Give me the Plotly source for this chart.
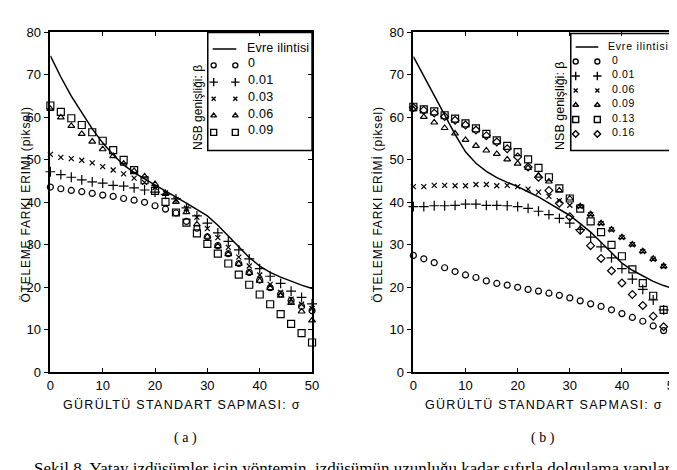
import plotly.graph_objects as go

W, H = 677, 470

# ---------------- data ----------------
sigma = [0, 2, 4, 6, 8, 10, 12, 14, 16, 18, 20, 22, 24, 26, 28, 30, 32, 34, 36, 38, 40, 42, 44, 46, 48, 50]
x_ticks = [0, 10, 20, 30, 40, 50]
y_ticks = [0, 10, 20, 30, 40, 50, 60, 70, 80]

# panel (a)
phase_a = [74.5, 69.5, 65.0, 61.0, 57.3, 54.0, 51.2, 48.8, 47.0, 45.5, 44.0, 42.6, 41.2, 39.8, 38.4, 36.8,
           34.6, 32.1, 29.4, 27.0, 25.0, 23.5, 22.4, 21.4, 20.5, 19.7]
a_b000 = [43.6, 43.2, 42.8, 42.5, 42.1, 41.7, 41.4, 40.9, 40.5, 40.0, 39.2, 38.4, 37.5, 35.5, 33.9, 31.9,
          29.8, 27.9, 25.6, 23.5, 21.7, 19.9, 18.4, 16.9, 15.5, 14.5]
a_b001 = [47.2, 46.5, 45.9, 45.3, 44.8, 44.5, 44.0, 43.8, 43.4, 42.9, 42.4, 41.9, 40.8, 38.7, 36.8, 35.1,
          32.8, 30.8, 28.8, 26.7, 24.4, 22.6, 20.9, 19.1, 17.6, 16.1]
a_b003 = [51.3, 50.6, 50.3, 49.9, 49.3, 48.4, 47.6, 46.7, 45.7, 44.7, 43.5, 42.2, 40.6, 38.6, 36.5, 33.8,
          31.7, 29.4, 27.1, 25.0, 22.9, 20.7, 18.8, 17.2, 16.0, 15.0]
a_b006 = [62.0, 60.0, 58.0, 56.1, 54.3, 52.5, 50.9, 49.1, 47.4, 46.1, 44.3, 42.0, 40.1, 37.7, 34.8, 31.9,
          29.7, 27.8, 25.5, 23.4, 21.5, 19.8, 18.0, 16.3, 14.3, 12.2]
a_b009 = [62.8, 61.3, 59.8, 58.2, 56.5, 54.5, 52.3, 50.0, 47.6, 45.2, 42.7, 40.1, 37.6, 35.2, 32.7, 30.2,
          27.9, 25.6, 23.0, 20.6, 18.3, 16.0, 13.7, 11.4, 9.2, 7.0]
labels_a = ["0", "0.01", "0.03", "0.06", "0.09"]

# panel (b)
phase_b = [74.3, 69.8, 65.3, 60.6, 56.0, 51.9, 49.2, 47.3, 45.8, 44.7, 43.7, 42.5, 41.3, 39.8, 38.3, 36.9,
           35.0, 33.0, 30.6, 28.1, 25.7, 24.0, 22.6, 21.4, 20.4, 19.6]
b_b000 = [27.5, 26.7, 25.8, 24.6, 23.7, 22.9, 22.3, 21.5, 20.9, 20.5, 20.0, 19.5, 19.1, 18.6, 18.1, 17.5,
          16.8, 16.1, 15.5, 14.7, 13.8, 12.9, 12.0, 10.9, 9.8, 8.5]
b_b001 = [39.0, 39.0, 39.2, 39.2, 39.3, 39.6, 39.6, 39.3, 39.3, 39.2, 39.0, 38.6, 37.9, 37.1, 36.2, 35.1,
          33.6, 31.8, 29.5, 26.9, 24.4, 21.9, 19.5, 17.0, 14.7, 12.2]
b_b006 = [43.7, 43.7, 44.0, 44.0, 43.9, 43.9, 44.2, 44.2, 43.9, 44.0, 43.7, 43.1, 42.4, 41.4, 40.4, 39.3,
          39.0, 37.1, 35.0, 33.5, 31.7, 30.0, 28.4, 26.6, 24.9, 23.1]
b_b009 = [61.9, 60.1, 58.8, 57.5, 56.2, 54.7, 53.3, 52.2, 51.4, 50.1, 49.1, 48.1, 46.3, 44.9, 42.8, 40.9,
          39.1, 37.2, 35.1, 33.6, 31.8, 30.1, 28.5, 26.7, 25.0, 23.2]
b_b013 = [62.5, 61.9, 61.4, 60.5, 59.7, 58.6, 57.4, 56.1, 54.6, 53.3, 51.8, 50.1, 48.1, 45.9, 43.3, 40.9,
          38.5, 35.5, 33.0, 30.0, 27.3, 24.2, 21.0, 18.0, 14.7, 11.8]
b_b016 = [62.3, 61.7, 61.0, 60.2, 59.3, 58.2, 57.0, 55.7, 54.2, 52.6, 50.7, 48.3, 45.9, 42.8, 39.8, 36.6,
          33.4, 29.8, 26.8, 23.9, 21.0, 18.3, 15.7, 13.2, 10.7, 8.3]
labels_b = ["0", "0.01", "0.06", "0.09", "0.13", "0.16"]

line_label = "Evre ilintisi"
beta_title = "NSB genişliği: β"
x_title = "GÜRÜLTÜ STANDART SAPMASI: "
x_symbol = "σ"
y_title_a = "ÖTELEME FARKI ERIMI (piksel)"
y_title_b = "ÖTELEME FARKI ERİMİ (piksel)"
caption = "Şekil 8. Yatay izdüşümler için yöntemin, izdüşümün uzunluğu kadar sıfırla dolgulama yapılarak"

# ---------------- styles ----------------
SANS = "Liberation Sans, Arial, sans-serif"
SERIF = "Liberation Serif, Times New Roman, serif"
BLACK = "#000000"

SYM = {
    "circle": ("circle-open", 6),
    "plus": ("cross-thin-open", 7),
    "x": ("x-thin-open", 5),
    "tri": ("triangle-up-open", 6),
    "square": ("square-open", 7),
    "diamond": ("diamond-open", 6),
}
series_a = [(a_b000, "circle"), (a_b001, "plus"), (a_b003, "x"), (a_b006, "tri"), (a_b009, "square")]
series_b = [(b_b000, "circle"), (b_b001, "plus"), (b_b006, "x"), (b_b009, "tri"), (b_b013, "square"),
            (b_b016, "diamond")]


def px(x):
    return x / W


def py(y):
    return 1 - y / H


A_L, A_R, B_L, B_R, TOP, BOT = 39, 305, 408, 673, 18, 369

fig = go.Figure()


def add_panel(xa, ya, phase, series):
    fig.add_trace(go.Scatter(x=sigma, y=phase, mode="lines", line=dict(color=BLACK, width=1.5),
                             xaxis=xa, yaxis=ya, showlegend=False, hoverinfo="skip", cliponaxis=False))
    for vals, key in series:
        sym, size = SYM[key]
        fig.add_trace(go.Scatter(x=sigma, y=vals, mode="markers",
                                 marker=dict(symbol=sym, size=size, color=BLACK,
                                             line=dict(color=BLACK, width=1.2)),
                                 xaxis=xa, yaxis=ya, showlegend=False, hoverinfo="skip", cliponaxis=False))


add_panel("x", "y", phase_a, series_a)
add_panel("x2", "y2", phase_b, series_b)

# dummy traces so the right-side (inside-tick) mirror axes render
for xa, ya in [("x", "y3"), ("x2", "y4")]:
    fig.add_trace(go.Scatter(x=[None], y=[None], xaxis=xa, yaxis=ya, showlegend=False, hoverinfo="skip"))

# ---------------- legends (drawn in pixel-space overlay axes) ----------------
annotations = []
shapes = []


def span(txt, spacing):
    return '<span style="letter-spacing:%spx">%s</span>' % (spacing, txt)


def add_legend(xa, ya, box, line_y, line_x, head_x, text_x, row_y0, row_dy, mark_x, labels, series,
               fsize, head_spacing, lab_spacing, title_x, title_y, title_size):
    l, t, r, b = box
    shapes.append(dict(type="rect", xref="paper", yref="paper", x0=px(l), x1=px(r), y0=py(b), y1=py(t),
                       line=dict(color=BLACK, width=1.5), fillcolor="rgba(0,0,0,0)"))
    fig.add_trace(go.Scatter(x=list(line_x), y=[line_y, line_y], mode="lines", line=dict(color=BLACK, width=1.5),
                             xaxis=xa, yaxis=ya, showlegend=False, hoverinfo="skip"))
    annotations.append(dict(text=span(line_label, head_spacing), x=px(head_x), y=py(line_y - 1), xref="paper",
                            yref="paper", xanchor="left", yanchor="middle", showarrow=False,
                            font=dict(family=SANS, size=fsize, color=BLACK)))
    for i, (lab, (vals, key)) in enumerate(zip(labels, series)):
        yy = row_y0 + i * row_dy
        sym, size = SYM[key]
        fig.add_trace(go.Scatter(x=list(mark_x), y=[yy, yy], mode="markers",
                                 marker=dict(symbol=sym, size=size - 1, color=BLACK,
                                             line=dict(color=BLACK, width=1.4)),
                                 xaxis=xa, yaxis=ya, showlegend=False, hoverinfo="skip", cliponaxis=False))
        annotations.append(dict(text=span(lab, lab_spacing), x=px(text_x), y=py(yy - 2), xref="paper",
                                yref="paper", xanchor="left", yanchor="middle", showarrow=False,
                                font=dict(family=SANS, size=fsize, color=BLACK)))
    annotations.append(dict(text=beta_title, x=px(title_x), y=py(title_y), xref="paper", yref="paper",
                            xanchor="center", yanchor="middle", textangle=-90, showarrow=False,
                            font=dict(family=SANS, size=title_size, color=BLACK)))


add_legend("x5", "y5", (199, 18, 305, 140), 35, (204, 228), 237, 238, 52, 17.3, (205, 227), labels_a, series_a,
           12.5, 0.2, 0.3, 189, 95, 12)
add_legend("x6", "y6", (568, 19, 673, 140), 33, (573, 596), 604, 608, 48, 15, (573, 595), labels_b, series_b,
           10.5, 0.8, 0.6, 557, 94, 12.5)

# ---------------- titles / captions ----------------
xt = span(x_title, 1.3) + x_symbol
for cx in [(A_L + A_R) / 2, (B_L + B_R) / 2]:
    annotations.append(dict(text=xt, x=px(cx), y=py(403), xref="paper", yref="paper", xanchor="center",
                            yanchor="middle", showarrow=False, font=dict(family=SANS, size=12.5, color=BLACK)))
for cx, txt in [(14, y_title_a), (372, y_title_b)]:
    annotations.append(dict(text=span(txt, 0.8), x=px(cx), y=py(196),
                            xref="paper", yref="paper", xanchor="center", yanchor="middle", textangle=-90,
                            showarrow=False, font=dict(family=SANS, size=12, color=BLACK)))
for cx, txt in [(176, "( a )"), (540, "( b )")]:
    annotations.append(dict(text=txt, x=px(cx), y=py(437), xref="paper", yref="paper", xanchor="center",
                            yanchor="middle", showarrow=False, font=dict(family=SERIF, size=14, color=BLACK)))
annotations.append(dict(text=caption, x=px(20), y=py(468), xref="paper", yref="paper", xanchor="left",
                        yanchor="middle", showarrow=False, font=dict(family=SERIF, size=17, color=BLACK)))

# ---------------- axes ----------------
main_x = dict(range=[0, 50], tickvals=x_ticks, ticks="inside", ticklen=4, tickwidth=1.2, tickcolor=BLACK,
              showline=True, linecolor=BLACK, linewidth=1.6, mirror="ticks", showgrid=False, zeroline=False,
              tickfont=dict(family=SANS, size=13, color=BLACK), fixedrange=True)
main_y = dict(range=[0, 80], tickvals=y_ticks, ticks="outside", ticklen=5, tickwidth=1.2, tickcolor=BLACK,
              showline=True, linecolor=BLACK, linewidth=1.6, mirror=True, showgrid=False, zeroline=False,
              tickfont=dict(family=SANS, size=13, color=BLACK), fixedrange=True)
over_y = dict(range=[0, 80], tickvals=y_ticks, ticks="inside", ticklen=4, tickwidth=1.2, tickcolor=BLACK,
              showticklabels=False, showline=False, showgrid=False, zeroline=False, side="right", fixedrange=True)
hidden = dict(visible=False, showgrid=False, zeroline=False, fixedrange=True)

fig.update_layout(
    width=W, height=H, margin=dict(l=0, r=0, t=0, b=0),
    paper_bgcolor="white", plot_bgcolor="rgba(0,0,0,0)", showlegend=False,
    xaxis=dict(main_x, domain=[px(A_L), px(A_R)], anchor="y"),
    yaxis=dict(main_y, domain=[py(BOT), py(TOP)], anchor="x"),
    xaxis2=dict(main_x, domain=[px(B_L), px(B_R)], anchor="y2"),
    yaxis2=dict(main_y, domain=[py(BOT), py(TOP)], anchor="x2"),
    yaxis3=dict(over_y, overlaying="y", anchor="x"),
    yaxis4=dict(over_y, overlaying="y2", anchor="x2"),
    xaxis5=dict(hidden, domain=[px(199), px(305)], range=[199, 305], anchor="y5"),
    yaxis5=dict(hidden, domain=[py(140), py(18)], range=[140, 18], anchor="x5"),
    xaxis6=dict(hidden, domain=[px(568), px(673)], range=[568, 673], anchor="y6"),
    yaxis6=dict(hidden, domain=[py(140), py(19)], range=[140, 19], anchor="x6"),
    annotations=annotations, shapes=shapes,
)

fig.write_html("out.html")
